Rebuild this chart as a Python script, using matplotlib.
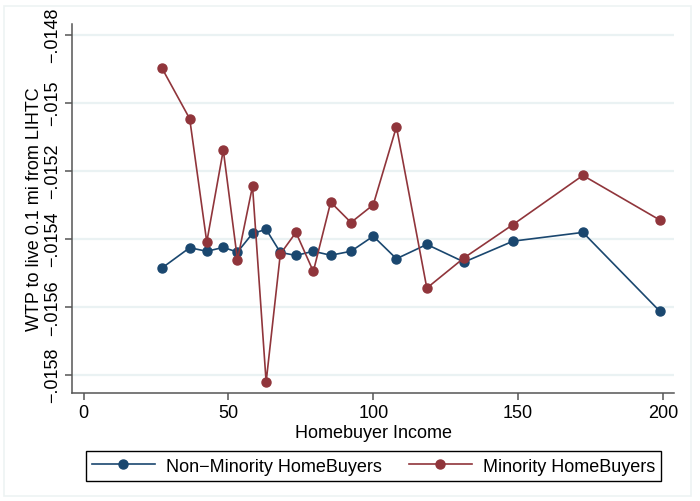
import numpy as np
import matplotlib.pyplot as plt
from matplotlib.patches import Rectangle

plt.rcParams['font.family'] = ['Liberation Sans', 'DejaVu Sans']

# Income bins (x) shared by both series
income = [27.0, 36.6, 42.5, 48.2, 53.1, 58.3, 63.0, 67.9, 73.3, 79.3,
          85.3, 92.3, 100.0, 108.0, 118.5, 131.4, 148.3, 172.4, 199.0]

# WTP estimates
non_minority = [-0.0154863, -0.0154265, -0.0154369, -0.0154256, -0.0154393,
                -0.0153844, -0.0153726, -0.0154403, -0.0154491, -0.0154369,
                -0.0154486, -0.0154369, -0.0153926, -0.0154589, -0.0154168,
                -0.0154686, -0.0154071, -0.0153814, -0.0156136]
minority = [-0.0148980, -0.0150471, -0.0154097, -0.0151393, -0.0154619,
            -0.0152454, -0.0158215, -0.0154451, -0.0153814, -0.0154963,
            -0.0152925, -0.0153523, -0.0153002, -0.0150707, -0.0155452,
            -0.0154560, -0.0153582, -0.0152138, -0.0153452]

y_ticks = [-0.0158, -0.0156, -0.0154, -0.0152, -0.015, -0.0148]
y_ticklabels = ['\u2212.0158', '\u2212.0156', '\u2212.0154', '\u2212.0152', '\u2212.015', '\u2212.0148']
x_ticks = [0, 50, 100, 150, 200]

navy = '#1a476f'
maroon = '#90353b'
grid_col = '#eaf2f3'
axis_col = '#555555'

fig = plt.figure(figsize=(7.0, 5.02), dpi=100)
ax = fig.add_axes([0.1033, 0.2151, 0.8597, 0.7351])

# faint outer frame (Stata graph region)
fig.patches.append(Rectangle((4 / 700, 5 / 502), 687 / 700, 490 / 502,
                             transform=fig.transFigure, fill=False,
                             edgecolor='#eef3f3', lw=1.2))

ax.plot(income, non_minority, '-o', color=navy, lw=1.2, ms=6.5,
        label='Non\u2212Minority HomeBuyers', zorder=3)
ax.plot(income, minority, '-o', color=maroon, lw=1.2, ms=6.5,
        label='Minority HomeBuyers', zorder=3)

ax.set_xlim(-3.94, 203.9)
ax.set_ylim(-0.0158538, -0.0147685)
ax.set_xticks(x_ticks)
ax.set_yticks(y_ticks)
ax.set_yticklabels(y_ticklabels, rotation=90, va='center')

ax.yaxis.grid(True, color=grid_col, lw=1.6, zorder=0)
ax.set_axisbelow(True)
for s in ['top', 'right']:
    ax.spines[s].set_visible(False)
for s in ['left', 'bottom']:
    ax.spines[s].set_color(axis_col)
    ax.spines[s].set_linewidth(1.1)
ax.tick_params(axis='both', direction='out', length=5, width=1.1,
               color=axis_col, labelsize=13, labelcolor='black', pad=3)

ax.set_xlabel('Homebuyer Income', fontsize=13, labelpad=2)
ax.set_ylabel('WTP to live 0.1 mi from LIHTC', fontsize=13, labelpad=1)

fig.legend(loc='center', bbox_to_anchor=(0.5336, 0.0697), ncol=2,
           fontsize=13, frameon=True, fancybox=False, edgecolor='black',
           framealpha=1, handlelength=3.5, handletextpad=0.6,
           columnspacing=1.5, borderpad=0.35, borderaxespad=0)

fig.savefig('out.png', dpi=100)
